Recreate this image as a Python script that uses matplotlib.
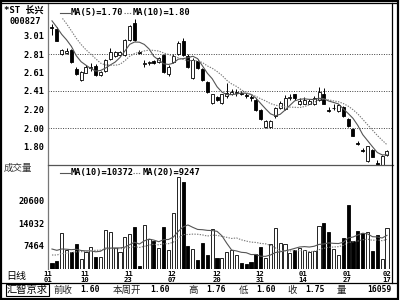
import numpy as np
import pandas as pd
import matplotlib
matplotlib.use("Agg")
import matplotlib.pyplot as plt
import matplotlib.transforms as mtransforms
from matplotlib.lines import Line2D
from matplotlib.patches import Rectangle

plt.rcParams['font.family'] = ['DejaVu Sans Mono', 'Noto Sans CJK SC']

# daily candles, 11/01 .. 02/17
opens = [3.11, 3.09, 2.81, 2.82, 2.86, 2.65, 2.53, 2.61, 2.66, 2.68,
         2.58, 2.63, 2.76, 2.79, 2.80, 2.80, 2.97, 3.15, 2.83, 2.70,
         2.71, 2.74, 2.72, 2.80, 2.59, 2.72, 2.81, 2.95, 2.79, 2.55,
         2.74, 2.65, 2.51, 2.28, 2.34, 2.28, 2.35, 2.37, 2.39, 2.39,
         2.36, 2.34, 2.31, 2.20, 2.01, 2.01, 2.13, 2.22, 2.21, 2.33,
         2.37, 2.26, 2.27, 2.27, 2.26, 2.31, 2.37, 2.20, 2.22, 2.19,
         2.23, 2.10, 1.99, 1.84, 1.76, 1.64, 1.76, 1.62, 1.60, 1.71]
highs = [3.14, 3.11, 2.87, 2.88, 2.87, 2.67, 2.63, 2.69, 2.71, 2.70,
         2.63, 2.76, 2.88, 2.85, 2.85, 2.98, 3.13, 3.20, 2.86, 2.75,
         2.74, 2.75, 2.78, 2.81, 2.69, 2.81, 2.95, 2.99, 2.81, 2.77,
         2.76, 2.66, 2.52, 2.38, 2.35, 2.38, 2.49, 2.43, 2.43, 2.41,
         2.39, 2.36, 2.33, 2.21, 2.09, 2.09, 2.23, 2.30, 2.36, 2.38,
         2.38, 2.33, 2.34, 2.32, 2.35, 2.45, 2.44, 2.23, 2.26, 2.26,
         2.24, 2.11, 2.00, 1.86, 1.78, 1.81, 1.77, 1.65, 1.71, 1.76]
lows = [3.02, 2.95, 2.80, 2.81, 2.71, 2.58, 2.52, 2.60, 2.63, 2.57,
        2.57, 2.62, 2.75, 2.78, 2.79, 2.79, 2.96, 2.96, 2.81, 2.67,
        2.69, 2.70, 2.71, 2.61, 2.57, 2.71, 2.80, 2.79, 2.66, 2.54,
        2.65, 2.52, 2.39, 2.27, 2.30, 2.26, 2.33, 2.36, 2.35, 2.36,
        2.33, 2.30, 2.19, 2.09, 2.00, 2.00, 2.11, 2.21, 2.20, 2.31,
        2.31, 2.25, 2.26, 2.26, 2.25, 2.30, 2.26, 2.18, 2.20, 2.18,
        2.12, 2.01, 1.91, 1.82, 1.74, 1.63, 1.68, 1.60, 1.60, 1.70]
closes = [3.10, 2.95, 2.86, 2.85, 2.72, 2.59, 2.62, 2.67, 2.67, 2.58,
          2.62, 2.75, 2.84, 2.83, 2.83, 2.97, 3.12, 2.97, 2.82, 2.71,
          2.72, 2.71, 2.77, 2.62, 2.67, 2.79, 2.93, 2.80, 2.67, 2.75,
          2.66, 2.53, 2.40, 2.37, 2.31, 2.37, 2.39, 2.40, 2.40, 2.37,
          2.35, 2.33, 2.20, 2.10, 2.08, 2.08, 2.22, 2.28, 2.33, 2.34,
          2.33, 2.30, 2.31, 2.30, 2.33, 2.40, 2.27, 2.19, 2.22, 2.25,
          2.13, 2.02, 1.92, 1.83, 1.75, 1.80, 1.69, 1.60, 1.70, 1.75]
volumes = [2550, 3040, 11040, 6220, 5740, 7860, 3520, 5740, 7000, 4290,
           4100, 12000, 11330, 6700, 5740, 9900, 10850, 12780, 1690, 13450,
           9400, 8920, 6700, 12780, 6220, 16830, 27250, 25800, 7380, 6510,
           3330, 8150, 4770, 12200, 4000, 4000, 5550, 6220, 4770, 2560,
           2170, 2750, 5060, 6990, 3810, 7860, 12680, 8340, 7960, 5260,
           6220, 6700, 6220, 5740, 6030, 13260, 13940, 11530, 6510, 4770,
           9790, 19240, 8920, 11720, 11040, 11330, 5930, 10660, 3520, 12490]

# sessions before the window (only feed the moving averages)
prev_closes = [3.55, 3.50, 3.40, 3.30, 3.25, 3.15, 3.08]
prev_volumes = [3100, 2900, 3300, 2800, 3200, 3000, 2900, 3100, 3000, 3100,
                6800, 7200, 6900, 7000, 6700, 7100, 6900, 7000, 6900]

price_ticks = [3.01, 2.81, 2.61, 2.41, 2.20, 2.00, 1.80]
price_grid = [2.81, 2.41, 2.00]
vol_ticks = [20600, 14032, 7464]
date_pos = [-0.8, 6.8, 15.7, 24.7, 34, 42.8, 51.7, 60.8, 69]
date_month = ["11", "11", "11", "12", "12", "12", "01", "01", "02"]
date_day = ["01", "10", "23", "07", "20", "31", "14", "27", "17"]

n = len(closes)
x = np.arange(n)
o = np.array(opens); h = np.array(highs); l = np.array(lows); c = np.array(closes)
v = np.array(volumes)
up = c >= o

cs = pd.Series(prev_closes + closes)
ma5 = cs.rolling(5, min_periods=1).mean().values[len(prev_closes):]
ma10 = cs.rolling(10, min_periods=1).mean().values[len(prev_closes):]
vs = pd.Series(prev_volumes + volumes)
vma10 = vs.rolling(10, min_periods=1).mean().values[len(prev_volumes):]
vma20 = vs.rolling(20, min_periods=1).mean().values[len(prev_volumes):]

W, H = 400, 300
fig = plt.figure(figsize=(4, 3), dpi=100)
fig.patch.set_facecolor('white')

def fx(px):
    return px / W

def fy(py):
    return 1 - py / H

xl = (-0.82, 70.24)

# price panel
ax = fig.add_axes([fx(48), fy(165), (393 - 48) / W, (165 - 18) / H])
ax.set_xlim(*xl)
ax.set_ylim(1.597, 3.207)
for g in price_grid:
    ax.axhline(g, color='#404040', lw=0.7, ls=(0, (1, 1.5)), zorder=1)
ax.vlines(x, l, h, color='black', lw=0.7, zorder=2)
bw = 0.62
body_b = np.minimum(o, c)
body_h = np.maximum(np.abs(c - o), 0.0001)
ax.bar(x, body_h, bottom=body_b, width=bw,
       color=np.where(up, 'white', 'black'), edgecolor='black', lw=0.6, zorder=3)
ax.plot(x, ma5, color='#555555', lw=0.8, zorder=4)
ax.plot(x, ma10, color='#777777', lw=0.8, ls=(0, (1.2, 1.2)), zorder=4)
ax.set_yticks(price_ticks)
ax.set_yticklabels(["%.2f" % t for t in price_ticks])
ax.set_xticks([])
ax.tick_params(axis='y', length=0, pad=2.5, labelsize=6.2)
for t in ax.get_yticklabels():
    t.set_fontweight('bold')
for s in ax.spines.values():
    s.set_visible(False)

# volume panel
av = fig.add_axes([fx(48), fy(269), (393 - 48) / W, (269 - 165) / H])
av.set_xlim(*xl)
av.set_ylim(723, 30816)
av.bar(x, v, width=0.64, color=np.where(up, 'white', 'black'),
       edgecolor='black', lw=0.6, zorder=3)
av.plot(x, vma10, color='#555555', lw=0.8, zorder=4)
av.plot(x, vma20, color='#777777', lw=0.8, ls=(0, (1.2, 1.2)), zorder=4)
av.set_yticks(vol_ticks)
av.set_yticklabels([str(t) for t in vol_ticks])
av.set_xticks([])
av.tick_params(axis='y', length=0, pad=2.5, labelsize=6.2)
for t in av.get_yticklabels():
    t.set_fontweight('bold')
for s in av.spines.values():
    s.set_visible(False)

# two-row date labels under the volume panel
tr = mtransforms.blended_transform_factory(av.transData, fig.transFigure)
for xp, m, d in zip(date_pos, date_month, date_day):
    av.text(xp, fy(273.5), m, transform=tr, fontsize=5.2, fontweight='bold',
            ha='center', va='center', clip_on=False)
    av.text(xp, fy(280), d, transform=tr, fontsize=5.2, fontweight='bold',
            ha='center', va='center', clip_on=False)

# frame lines
def hline(y, x0, x1, color='black', lw=1.0):
    fig.add_artist(Line2D([fx(x0), fx(x1)], [fy(y), fy(y)], color=color, lw=lw))

def vline(xp, y0, y1, color='black', lw=1.0):
    fig.add_artist(Line2D([fx(xp), fx(xp)], [fy(y0), fy(y1)], color=color, lw=lw))

vline(48, 3, 269, color='#777777', lw=0.9)
hline(165, 48, 393, color='#555555', lw=0.9)
hline(283, 2, 396, color='black', lw=0.9)
vline(392, 3, 283, color='black', lw=0.9)
hline(3, 2, 396, color='black', lw=0.9)
fig.add_artist(Rectangle((0.002, 0.003), 0.994, 0.994, transform=fig.transFigure,
                         fill=False, ec='black', lw=1.6))

# texts
fig.text(fx(4), fy(10), "*ST 长兴", fontsize=6.5, fontweight='bold', va='center')
fig.text(fx(9), fy(22), "000827", fontsize=6.2, fontweight='bold', va='center')
fig.text(fx(4), fy(168), "成交量", fontsize=6.8, va='center', color='#333333')
fig.text(fx(6), fy(276), "日线", fontsize=7.2, va='center')

fig.add_artist(Line2D([fx(60), fx(70)], [fy(13), fy(13)], color='#555555', lw=0.8))
fig.text(fx(71), fy(13), "MA(5)=1.70", fontsize=6.2, fontweight='bold', va='center')
fig.add_artist(Line2D([fx(124), fx(132)], [fy(13), fy(13)], color='#777777', lw=0.8,
                      ls=(0, (1.2, 1.2))))
fig.text(fx(133), fy(13), "MA(10)=1.80", fontsize=6.2, fontweight='bold', va='center')

fig.add_artist(Line2D([fx(60), fx(70)], [fy(173), fy(173)], color='#555555', lw=0.8))
fig.text(fx(71), fy(173), "MA(10)=10372", fontsize=6.2, fontweight='bold', va='center')
fig.add_artist(Line2D([fx(133), fx(141)], [fy(173), fy(173)], color='#777777', lw=0.8,
                      ls=(0, (1.2, 1.2))))
fig.text(fx(143), fy(173), "MA(20)=9247", fontsize=6.2, fontweight='bold', va='center')

# footer
fy_f = fy(290)
fig.text(fx(7), fy_f, "汇智京求", fontsize=7.4, va='center',
         bbox=dict(boxstyle='square,pad=0.12', fc='white', ec='black', lw=0.8))
footer = [(54, "前收"), (100, "1.60"), (113, "本周开"), (170, "1.60"),
          (188, "高"), (226, "1.76"), (239, "低"), (276, "1.60"),
          (287, "收"), (325, "1.75"), (337, "量"), (392, "16059")]
for xp, s in footer:
    num = s[0].isdigit()
    if num:
        fig.text(fx(xp), fy_f, s, fontsize=5.8, fontweight='bold',
                 va='center', ha='right')
    else:
        fig.text(fx(xp), fy_f, s, fontsize=6.8, va='center', color='#222222')

fig.savefig("out.png", dpi=100)
